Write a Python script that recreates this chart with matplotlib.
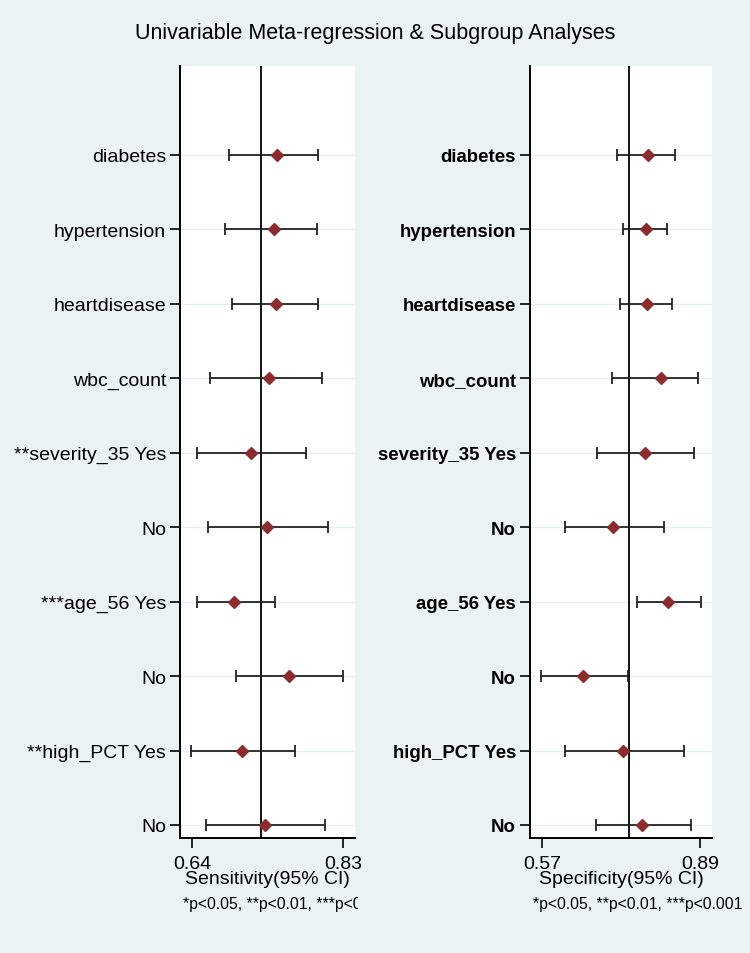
import matplotlib
matplotlib.use("Agg")
import matplotlib.pyplot as plt
from matplotlib.transforms import Bbox, TransformedBbox

plt.rcParams['font.family'] = ['Liberation Sans', 'DejaVu Sans']

left_labels = ["diabetes", "hypertension", "heartdisease", "wbc_count", "**severity_35 Yes",
               "No", "***age_56 Yes", "No", "**high_PCT Yes", "No"]
right_labels = ["diabetes", "hypertension", "heartdisease", "wbc_count", "severity_35 Yes",
                "No", "age_56 Yes", "No", "high_PCT Yes", "No"]

sens_est = [0.747, 0.743, 0.746, 0.737, 0.714, 0.735, 0.693, 0.762, 0.703, 0.732]
sens_lo = [0.687, 0.682, 0.690, 0.663, 0.646, 0.660, 0.646, 0.695, 0.639, 0.658]
sens_hi = [0.799, 0.797, 0.798, 0.804, 0.784, 0.811, 0.744, 0.830, 0.770, 0.807]
sens_pooled = 0.7265

spec_est = [0.785, 0.780, 0.782, 0.811, 0.778, 0.714, 0.825, 0.653, 0.734, 0.772]
spec_lo = [0.721, 0.734, 0.728, 0.711, 0.681, 0.616, 0.762, 0.567, 0.616, 0.678]
spec_hi = [0.838, 0.822, 0.833, 0.886, 0.878, 0.816, 0.891, 0.744, 0.858, 0.872]
spec_pooled = 0.746

sens_ticks = [0.64, 0.83]
spec_ticks = [0.57, 0.89]

BG = "#EAF2F3"
GRID = "#E3EEF1"
MARK = "#8B2C2F"

fig = plt.figure(figsize=(7.5, 9.54), dpi=100, facecolor=BG)

def panel(rect, labels, est, lo, hi, pooled, ticks, xlim, xlabel, bold):
    ax = fig.add_axes(rect)
    ax.set_facecolor("white")
    n = len(labels)
    ypos = list(range(n))
    for y in ypos:
        ax.axhline(y, color=GRID, lw=0.9, zorder=0)
    ax.axvline(pooled, color="black", lw=1.3, zorder=1)
    xerr = [[e - l for e, l in zip(est, lo)], [h - e for e, h in zip(est, hi)]]
    ax.errorbar(est, ypos, xerr=xerr, fmt="none", ecolor="#222222", elinewidth=1.3,
                capsize=4, capthick=1.3, zorder=2)
    ax.plot(est, ypos, "D", color=MARK, ms=6, zorder=3)
    ax.set_ylim(n - 1 + 0.175, -1.195)
    ax.set_xlim(*xlim)
    ax.set_yticks(ypos)
    if bold:
        ax.set_yticklabels(labels, fontsize=13.4, fontweight="bold")
    else:
        ax.set_yticklabels(labels, fontsize=14)
    ax.set_xticks(ticks)
    ax.set_xticklabels([f"{t:.2f}" for t in ticks], fontsize=14)
    for s in ["top", "right"]:
        ax.spines[s].set_visible(False)
    for s in ["left", "bottom"]:
        ax.spines[s].set_linewidth(1.4)
    ax.tick_params(axis="y", length=7, width=1.2, pad=3)
    ax.tick_params(axis="x", length=7, width=1.2, pad=5)
    ax.set_xlabel(xlabel, fontsize=14, labelpad=-1)
    return ax

ax1 = panel([180/750, 1-839/954, 175/750, 772/954], left_labels, sens_est, sens_lo, sens_hi,
            sens_pooled, sens_ticks, (0.625, 0.845), "Sensitivity(95% CI)", False)
ax2 = panel([530/750, 1-839/954, 182/750, 772/954], right_labels, spec_est, spec_lo, spec_hi,
            spec_pooled, spec_ticks, (0.545, 0.914), "Specificity(95% CI)", True)

fig.text(0.5, 1-33/954, "Univariable Meta-regression & Subgroup Analyses", ha="center",
         va="center", fontsize=15.5)

foot = "*p<0.05, **p<0.01, ***p<0.001"
t1 = fig.text(183/750, 1-905/954, foot, ha="left", va="center", fontsize=11.3)
t1.set_clip_on(True)
t1.set_clip_box(TransformedBbox(Bbox([[0, 0], [358/750, 1]]), fig.transFigure))
fig.text(533/750, 1-905/954, foot, ha="left", va="center", fontsize=11.3)

fig.savefig("out.png", dpi=100, facecolor=BG)
